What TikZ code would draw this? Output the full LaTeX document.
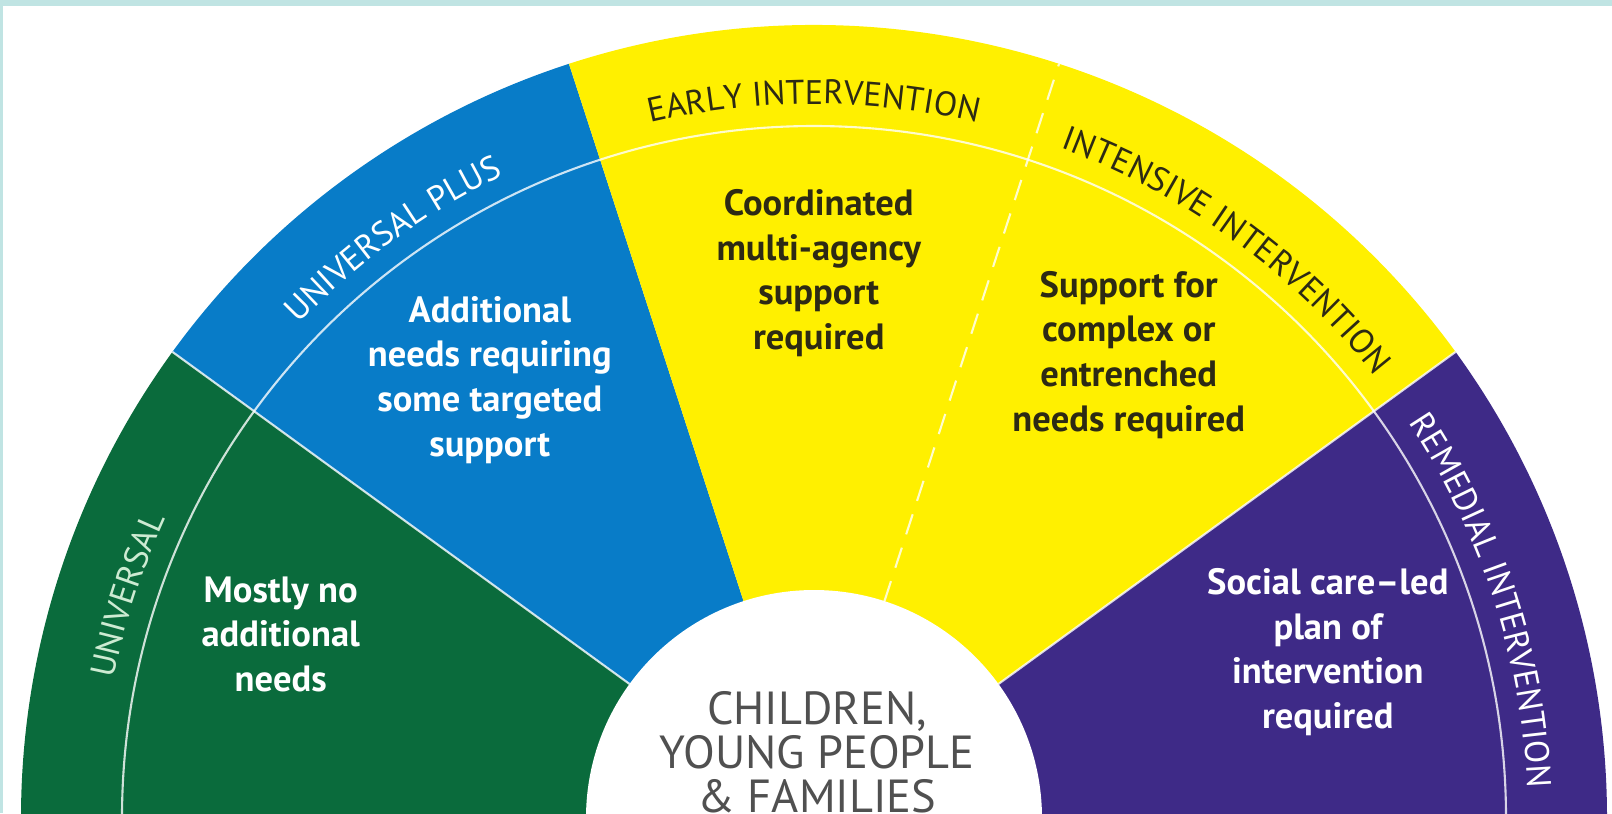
\documentclass[tikz,border=0pt]{standalone}
\usepackage{fontspec}
\setmainfont{PT Sans}
\usetikzlibrary{decorations.text}
\definecolor{univgreen}{RGB}{10,107,60}
\definecolor{plusblue}{RGB}{8,124,200}
\definecolor{earlyyellow}{RGB}{255,240,0}
\definecolor{remedpurple}{RGB}{62,42,135}
\definecolor{frameteal}{RGB}{192,228,227}
\definecolor{inkdark}{RGB}{45,42,20}
\definecolor{cypgrey}{RGB}{80,80,80}
\definecolor{palegreen}{RGB}{205,235,210}
\begin{document}
\begin{tikzpicture}[
    need/.style={align=center, font=\fontsize{10.4}{12.7}\selectfont\bfseries},
    bandtext/.style 2 args={decorate, decoration={text along path, text align=center,
        text color=#2, text={|\fontsize{9.7}{11}\selectfont|#1}}},
    sep/.style={white, opacity=.8, line width=.6pt}]
  \useasboundingbox (-8.14,0.05) rectangle (7.98,8.18);
  \clip (-8.14,0.05) rectangle (7.98,8.18);
  %cornice
  \fill[frameteal] (-8.14,8.12) rectangle (7.98,8.18);
  \fill[frameteal] (-8.14,0.05) rectangle (-8.11,8.18);
  %settori
  \fill[univgreen] (0,0) -- (180:7.93) arc[start angle=180, end angle=144, radius=7.93] -- cycle;
  \fill[plusblue] (0,0) -- (144:7.93) arc[start angle=144, end angle=108, radius=7.93] -- cycle;
  \fill[earlyyellow] (0,0) -- (108:7.93) arc[start angle=108, end angle=36, radius=7.93] -- cycle;
  \fill[remedpurple] (0,0) -- (36:7.93) arc[start angle=36, end angle=0, radius=7.93] -- cycle;
  %linee
  \draw[sep] (180:6.92) arc[start angle=180, end angle=0, radius=6.92];
  \draw[sep] (144:2.28) -- (144:7.93);
  \draw[sep] (36:2.28) -- (36:7.93);
  \draw[sep, dash pattern=on 6pt off 4pt] (72:2.28) -- (72:7.93);
  %centro
  \fill[white] (0,0) circle (2.28);
  %etichette
  \path[bandtext={UNIVERSAL}{palegreen}] (180:7.14) arc[start angle=180, end angle=144, radius=7.14];
  \path[bandtext={UNIVERSAL PLUS}{white}] (144:7.14) arc[start angle=144, end angle=108, radius=7.14];
  \path[bandtext={EARLY INTERVENTION}{inkdark}] (108:7.14) arc[start angle=108, end angle=72, radius=7.14];
  \path[bandtext={INTENSIVE INTERVENTION}{inkdark}] (72:7.14) arc[start angle=72, end angle=36, radius=7.14];
  \path[bandtext={REMEDIAL INTERVENTION}{white}] (36:7.14) arc[start angle=36, end angle=0, radius=7.14];
  %testi
  \node[need, text=white] (universal) at (161:5.64) {Mostly no\\additional\\needs};
  \node[need, text=white] (uplus) at (126.5:5.45) {Additional\\needs requiring\\some targeted\\support};
  \node[need, text=inkdark] (early) at (89.5:5.45) {Coordinated\\multi-agency\\support\\required};
  \node[need, text=inkdark] (intensive) at (55.8:5.6) {Support for\\complex or\\entrenched\\needs required};
  \node[need, text=white] (remedial) at (17.9:5.4) {Social care--led\\plan of\\intervention\\required};
  \node[text=cypgrey, align=center, font=\fontsize{13.2}{12.5}\selectfont] (cyp) at (0.03,0.66) {CHILDREN,\\YOUNG PEOPLE\\\& FAMILIES};
\end{tikzpicture}
\end{document}
